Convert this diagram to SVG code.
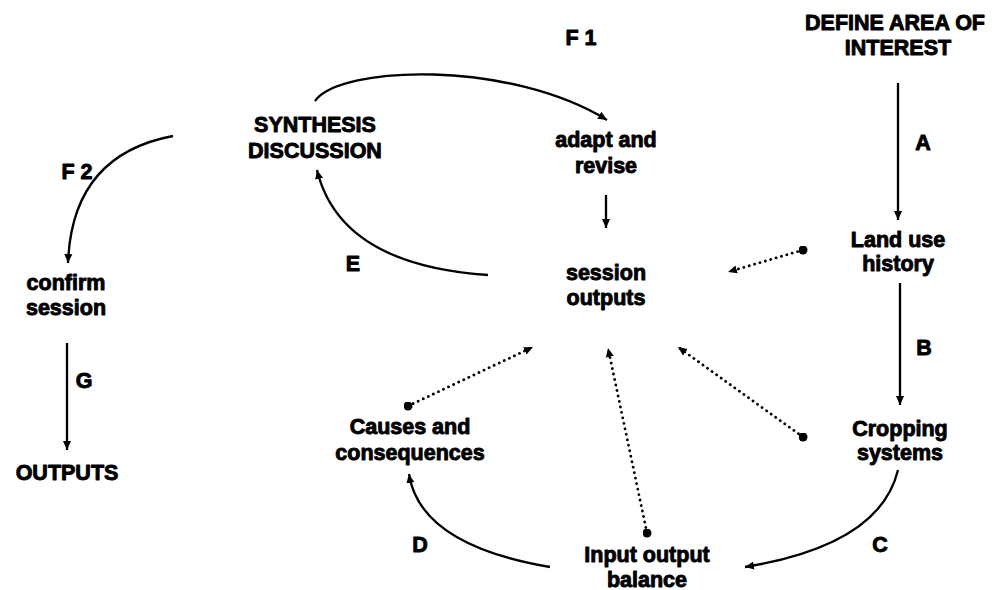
<svg xmlns="http://www.w3.org/2000/svg" width="1000" height="590" viewBox="0 0 1000 590">
<style>
text{font-family:"Liberation Sans",Arial,sans-serif;font-weight:bold;font-size:21.5px;fill:#000;stroke:#000;stroke-width:0.9;stroke-linejoin:round;text-anchor:middle}
.solid{fill:none;stroke:#000;stroke-width:2.3}
.dots{fill:none;stroke:#000;stroke-width:2.8;stroke-dasharray:0.1 5.5;stroke-linecap:round}
</style>
<defs>
<marker id="arr" viewBox="0 0 10 10" refX="10" refY="5" markerWidth="9" markerHeight="9" markerUnits="userSpaceOnUse" orient="auto">
<path d="M0,0.5 L10,5 L0,9.5 z" fill="#000"/>
</marker>
<marker id="dot" viewBox="0 0 10 10" refX="5" refY="5" markerWidth="9" markerHeight="9" markerUnits="userSpaceOnUse">
<circle cx="5" cy="5" r="5" fill="#000"/>
</marker>
</defs>
<rect width="1000" height="590" fill="#fff"/>
<g id="connectors">
<line class="solid" x1="898" y1="83" x2="898" y2="220" marker-end="url(#arr)"/>
<line class="solid" x1="900" y1="283" x2="900" y2="405" marker-end="url(#arr)"/>
<path class="solid" d="M898,470 Q880,545 745,567" marker-end="url(#arr)"/>
<path class="solid" d="M550,567 Q420,545 409,474" marker-end="url(#arr)"/>
<path class="solid" d="M488,275 Q340,265 317,170" marker-end="url(#arr)"/>
<path class="solid" d="M315,101 C340,65 510,60 607,120" marker-end="url(#arr)"/>
<line class="solid" x1="606" y1="195" x2="606" y2="228" marker-end="url(#arr)"/>
<path class="solid" d="M173,136 Q72,155 68,263" marker-end="url(#arr)"/>
<line class="solid" x1="67" y1="343" x2="67" y2="450" marker-end="url(#arr)"/>
<line class="dots" x1="803" y1="250" x2="728" y2="272" marker-start="url(#dot)" marker-end="url(#arr)"/>
<line class="dots" x1="803" y1="437" x2="678" y2="347" marker-start="url(#dot)" marker-end="url(#arr)"/>
<line class="dots" x1="647" y1="533" x2="608" y2="348" marker-start="url(#dot)" marker-end="url(#arr)"/>
<line class="dots" x1="408" y1="406" x2="533" y2="347" marker-start="url(#dot)" marker-end="url(#arr)"/>
</g>
<g id="labels">
<text x="581" y="45">F 1</text>
<text x="923" y="150">A</text>
<text x="924" y="355">B</text>
<text x="880" y="552">C</text>
<text x="420" y="552">D</text>
<text x="353" y="271">E</text>
<text x="77" y="179">F 2</text>
<text x="84" y="388">G</text>
</g>
<g id="define"><text x="895" y="30">DEFINE AREA OF</text><text x="898" y="55">INTEREST</text></g>
<g id="landuse"><text x="898" y="247">Land use</text><text x="898" y="271">history</text></g>
<g id="cropping"><text x="900" y="436">Cropping</text><text x="900" y="460">systems</text></g>
<g id="inputoutput"><text x="647" y="562">Input output</text><text x="647" y="587">balance</text></g>
<g id="causes"><text x="410" y="434">Causes and</text><text x="410" y="460">consequences</text></g>
<g id="session"><text x="606" y="280">session</text><text x="606" y="305">outputs</text></g>
<g id="adapt"><text x="606" y="147">adapt and</text><text x="606" y="173">revise</text></g>
<g id="synthesis"><text x="315" y="132">SYNTHESIS</text><text x="315" y="158">DISCUSSION</text></g>
<g id="confirm"><text x="66" y="290">confirm</text><text x="66" y="315">session</text></g>
<g id="outputs"><text x="67" y="480">OUTPUTS</text></g>
</svg>
